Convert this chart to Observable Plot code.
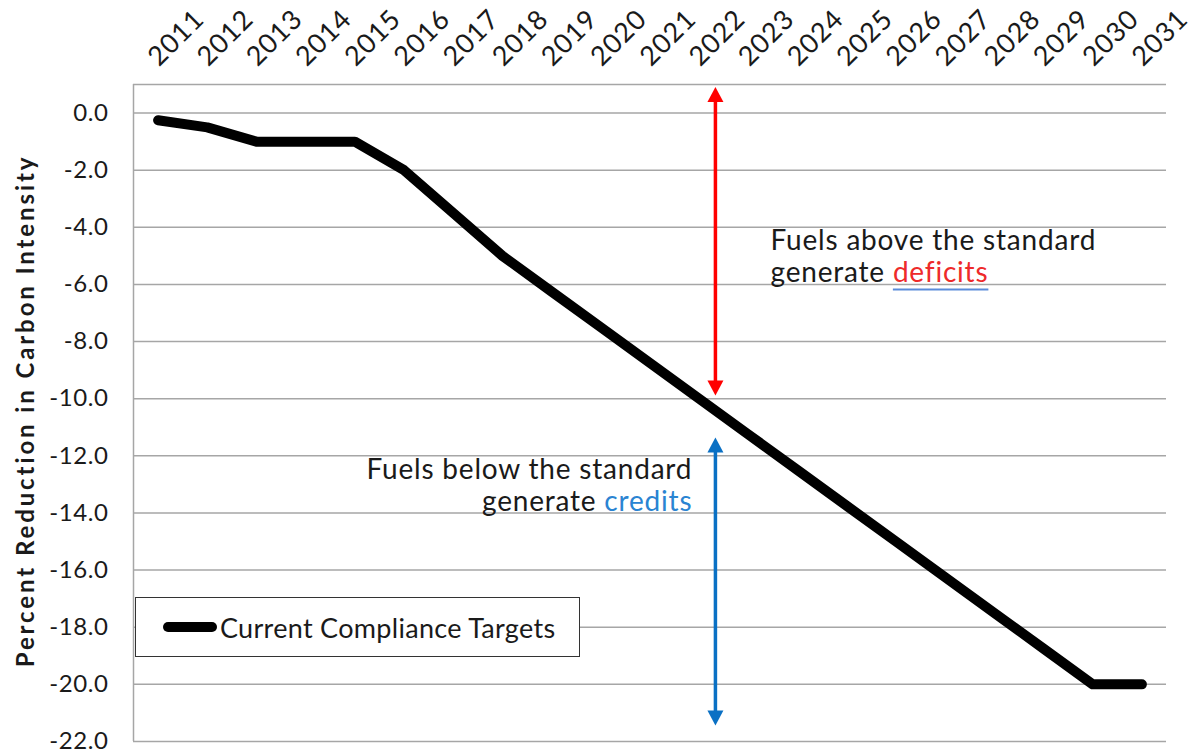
<!DOCTYPE html>
<html>
<head>
<meta charset="utf-8">
<script src="https://cdn.jsdelivr.net/npm/d3@7"></script>
<script src="https://cdn.jsdelivr.net/npm/@observablehq/plot@0.6"></script>
<style>
  body { margin: 0; background: #fff; font-family: Lato, sans-serif; }
  #wrap { position: relative; width: 1197px; height: 751px; overflow: hidden; }
  #legend { position: absolute; left: 135px; top: 597px; width: 445px; height: 60px;
            box-sizing: border-box; border: 1.5px solid #333; background: #fff;
            display: flex; align-items: center; color: #1a1a1a; font-size: 27px; letter-spacing: 0.3px; }
  #legend .swatch { display: inline-block; width: 54px; height: 10px; border-radius: 5px;
            background: #000; margin-left: 27px; margin-right: 3px; }
  .yticks text { letter-spacing: 0.6px; }
  .ytitle text { letter-spacing: 2.9px; }
  .years text { letter-spacing: 0.8px; }
  .anno-deficit text, .anno-credit text { letter-spacing: 0.8px; }
</style>
</head>
<body>
<div id="wrap"></div>
<script>
// ---- data ----
const years = [2011, 2012, 2013, 2014, 2015, 2016, 2017, 2018, 2019, 2020, 2021,
               2022, 2023, 2024, 2025, 2026, 2027, 2028, 2029, 2030, 2031];
const targets = [-0.25, -0.5, -1.0, -1.0, -1.0, -2.0, -3.5, -5.0, -6.25, -7.5, -8.75,
                 -10.0, -11.25, -12.5, -13.75, -15.0, -16.25, -17.5, -18.75, -20.0, -20.0];
const yTicks = [0, -2, -4, -6, -8, -10, -12, -14, -16, -18, -20, -22];
const yMax = 1;
const yMin = -22;
const yTitle = "Percent Reduction in Carbon Intensity";
const legendLabel = "Current Compliance Targets";

// annotation arrows (year position, value range)
const arrowYear = 2022.33;
const deficitArrow = [0.91, -9.89];
const creditArrow = [-11.36, -21.44];

// annotation texts
const deficitLines = ["Fuels above the standard", "generate deficits"];
const creditLines = ["Fuels below the standard", "generate credits"];
const deficitWord = "deficits";
const creditWord = "credits";
const deficitAnchor = {year: 2023.45, value: -4};
const creditAnchor = {year: 2021.86, value: -12};

const red = "#ff0000";
const blue = "#0a70c4";
const redText = "#ee2a2a";
const blueText = "#2a84d2";
const ink = "#1a1a1a";
const gridColor = "#a6a6a6";

const rows = years.map((year, i) => ({year, value: targets[i]}));

// arrow-head symbols with the tip at the origin
const headUp = {draw(ctx) { ctx.moveTo(0, 0); ctx.lineTo(8, 15); ctx.lineTo(-8, 15); ctx.closePath(); }};
const headDown = {draw(ctx) { ctx.moveTo(0, 0); ctx.lineTo(8, -15); ctx.lineTo(-8, -15); ctx.closePath(); }};

const plot = Plot.plot({
  width: 1197,
  height: 751,
  marginLeft: 133,
  marginRight: 31,
  marginTop: 84,
  marginBottom: 10,
  style: {fontFamily: "Lato, sans-serif", background: "#fff", color: ink},
  x: {domain: [years[0] - 0.5, years[years.length - 1] + 0.5], axis: null},
  y: {domain: [yMin, yMax]},
  marks: [
    Plot.ruleY([...yTicks, yMax], {stroke: gridColor, strokeWidth: 1.5}),
    Plot.ruleX([years[0] - 0.5], {y1: yMin, y2: yMax, stroke: gridColor, strokeWidth: 1.5}),
    Plot.axisY(yTicks, {anchor: "left", tickSize: 0, tickPadding: 25, label: null,
      tickFormat: d => d.toFixed(1), fontSize: 24, fill: ink, className: "yticks"}),
    Plot.text([yTitle], {frameAnchor: "left", textAnchor: "middle", rotate: -90, dx: -107, dy: -2,
      fontWeight: "bold", fontSize: 24, fill: ink, className: "ytitle"}),
    Plot.text(years, {x: d => d, frameAnchor: "top", dx: 1, dy: -17, rotate: -45,
      textAnchor: "start", lineAnchor: "bottom", fontSize: 27, fill: ink, text: d => String(d), className: "years"}),
    Plot.line(rows, {x: "year", y: "value", stroke: "#000", strokeWidth: 10,
      strokeLinecap: "round", strokeLinejoin: "round"}),
    // deficit arrow (red)
    Plot.ruleX([arrowYear], {y1: deficitArrow[0], y2: deficitArrow[1], stroke: red, strokeWidth: 3.5, insetTop: 8, insetBottom: 8}),
    Plot.dot([arrowYear], {x: d => d, y: () => deficitArrow[0], symbol: headUp, fill: red, stroke: null}),
    Plot.dot([arrowYear], {x: d => d, y: () => deficitArrow[1], symbol: headDown, fill: red, stroke: null}),
    // credit arrow (blue)
    Plot.ruleX([arrowYear], {y1: creditArrow[0], y2: creditArrow[1], stroke: blue, strokeWidth: 3.5, insetTop: 8, insetBottom: 8}),
    Plot.dot([arrowYear], {x: d => d, y: () => creditArrow[0], symbol: headUp, fill: blue, stroke: null}),
    Plot.dot([arrowYear], {x: d => d, y: () => creditArrow[1], symbol: headDown, fill: blue, stroke: null}),
    // annotations
    Plot.text([deficitLines.join("\n")], {x: () => deficitAnchor.year, y: () => deficitAnchor.value,
      textAnchor: "start", lineAnchor: "top", fontSize: 28, lineHeight: 1.15, fill: ink, className: "anno-deficit"}),
    Plot.text([creditLines.join("\n")], {x: () => creditAnchor.year, y: () => creditAnchor.value,
      textAnchor: "end", lineAnchor: "top", fontSize: 28, lineHeight: 1.15, fill: ink, className: "anno-credit"})
  ]
});

const wrap = document.getElementById("wrap");
wrap.appendChild(plot);

// colour the key word of each annotation
function colourWord(word, colour, underline) {
  d3.select(plot).selectAll("tspan").each(function() {
    const t = d3.select(this);
    const s = t.text();
    if (s.endsWith(" " + word)) {
      t.text(s.slice(0, s.length - word.length));
      const w = t.append("tspan").attr("fill", colour).text(word);
      if (underline) {
        try {
          const bb = w.node().getBBox();
          const textEl = this.parentNode;
          d3.select(textEl.parentNode).append("line")
            .attr("transform", textEl.getAttribute("transform"))
            .attr("x1", bb.x).attr("x2", bb.x + bb.width)
            .attr("y1", bb.y + bb.height + 1).attr("y2", bb.y + bb.height + 1)
            .attr("stroke", underline).attr("stroke-width", 2);
        } catch (e) {}
      }
    }
  });
}
colourWord(deficitWord, redText, "#5b8bd9");
colourWord(creditWord, blueText, null);

// legend
const legend = document.createElement("div");
legend.id = "legend";
const sw = document.createElement("span");
sw.className = "swatch";
const lab = document.createElement("span");
lab.textContent = legendLabel;
legend.appendChild(sw);
legend.appendChild(lab);
wrap.appendChild(legend);
</script>
</body>
</html>
